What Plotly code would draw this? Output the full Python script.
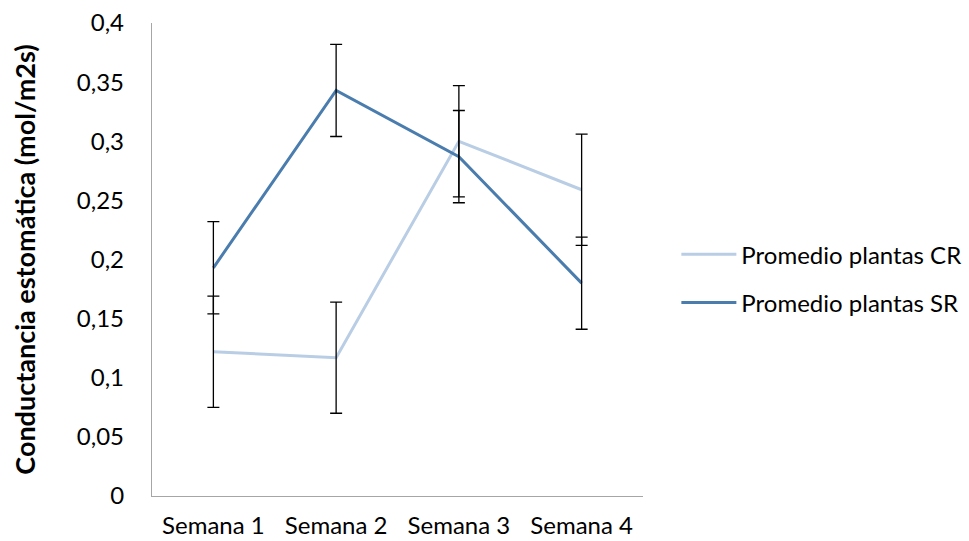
import plotly.graph_objects as go

# Weekly stomatal conductance averages and their error ranges
semanas = ["Semana 1", "Semana 2", "Semana 3", "Semana 4"]
promedio_cr = [0.122, 0.117, 0.300, 0.259]
error_cr = [0.047, 0.047, 0.047, 0.047]
promedio_sr = [0.193, 0.343, 0.287, 0.180]
error_sr = [0.039, 0.039, 0.039, 0.039]

y_ticks = [0, 0.05, 0.1, 0.15, 0.2, 0.25, 0.3, 0.35, 0.4]
y_tick_text = ["0", "0,05", "0,1", "0,15", "0,2", "0,25", "0,3", "0,35", "0,4"]

FONT = "Lato"
color_cr = "#B9CDE5"
color_sr = "#4A7DAE"

fig = go.Figure()

fig.add_trace(go.Scatter(
    x=semanas, y=promedio_cr, mode="lines", name="Promedio plantas CR",
    line=dict(color=color_cr, width=3), legendgroup="cr",
))
fig.add_trace(go.Scatter(
    x=semanas, y=promedio_sr, mode="lines", name="Promedio plantas SR",
    line=dict(color=color_sr, width=3), legendgroup="sr",
))

# Error bars drawn on top of both lines
for vals, errs in ((promedio_cr, error_cr), (promedio_sr, error_sr)):
    fig.add_trace(go.Scatter(
        x=semanas, y=vals, mode="markers", showlegend=False,
        marker=dict(size=0.1, color="rgba(0,0,0,0)"),
        error_y=dict(type="data", array=errs, visible=True,
                     color="black", thickness=1.3, width=6),
        hoverinfo="skip",
    ))

fig.update_layout(
    width=969, height=541,
    margin=dict(l=152, r=326, t=23, b=45, autoexpand=False),
    paper_bgcolor="white", plot_bgcolor="white",
    font=dict(family=FONT, size=24, color="black"),
    showlegend=True,
    legend=dict(
        xref="container", yref="container",
        x=0.698, xanchor="left", y=0.485, yanchor="middle",
        font=dict(family=FONT, size=24, color="black"),
        tracegroupgap=14, itemwidth=55,
        bgcolor="rgba(0,0,0,0)",
    ),
    xaxis=dict(
        type="category", range=[-0.5, 3.5], automargin=False,
        showline=True, linecolor="#A6A6A6", linewidth=1.3,
        showgrid=False, ticks="", zeroline=False,
        tickfont=dict(family=FONT, size=24),
        ticklabelstandoff=8,
    ),
    yaxis=dict(
        range=[0, 0.4], tickvals=y_ticks, ticktext=y_tick_text,
        automargin=False,
        showline=True, linecolor="#A6A6A6", linewidth=1.3,
        showgrid=False, ticks="", zeroline=False,
        tickfont=dict(family=FONT, size=24),
        ticklabelstandoff=22,
        title=dict(text="<b>Conductancia estomática (mol/m2s)</b>",
                   font=dict(family=FONT, size=27), standoff=33),
    ),
)

fig.write_html("out.html")
